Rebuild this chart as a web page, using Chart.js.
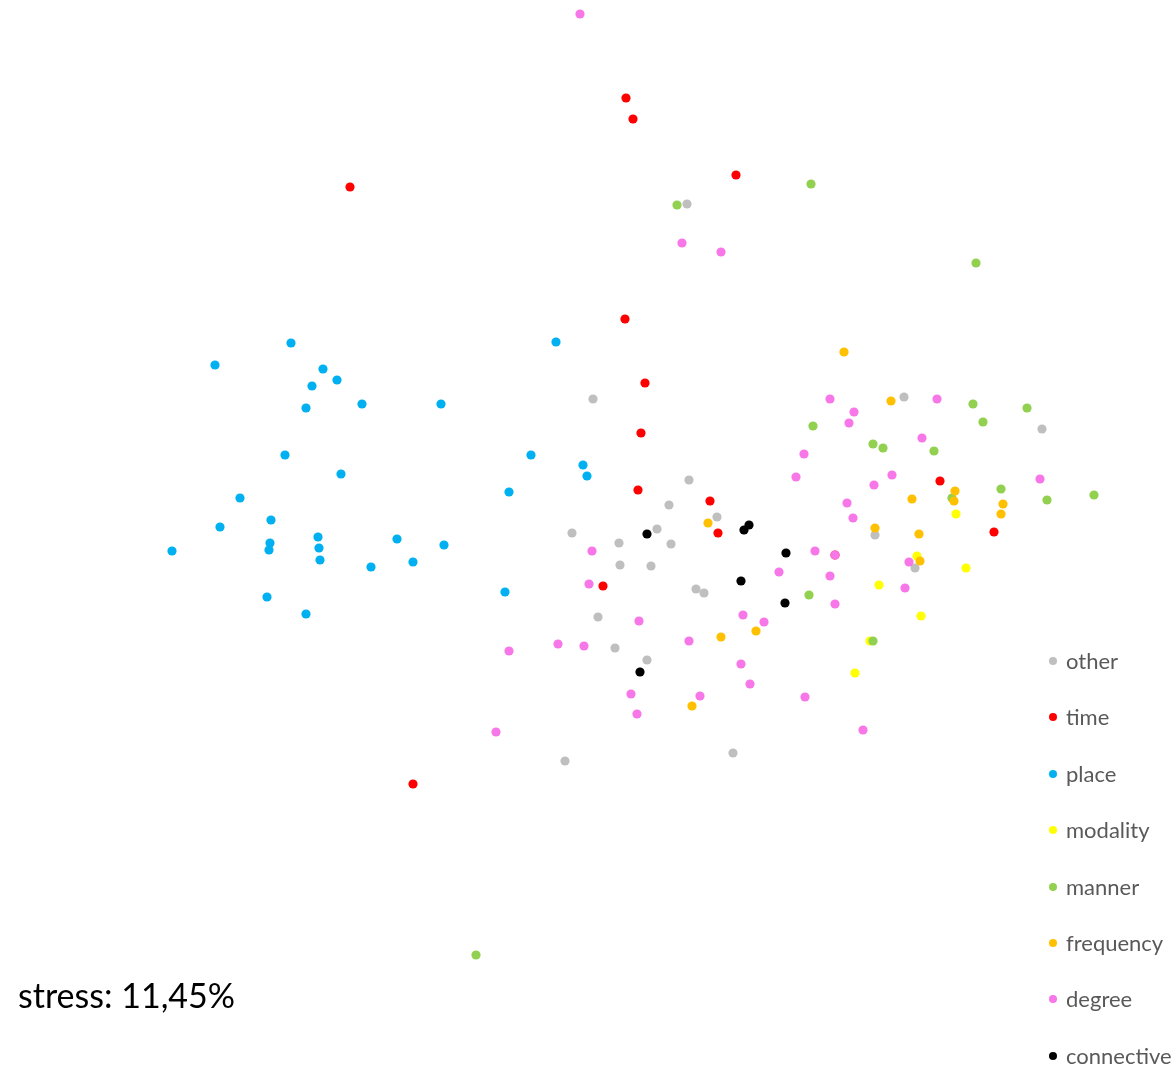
<!DOCTYPE html>
<html>
<head>
<meta charset="utf-8">
<script src="https://cdn.jsdelivr.net/npm/chart.js@4/dist/chart.umd.min.js"></script>
<style>
body{margin:0;background:#fff;overflow:hidden}
#wrap{position:absolute;left:0;top:0;width:1176px;height:1067px}
#stress{position:absolute;left:18px;top:974px;font-family:Lato,"Open Sans",sans-serif;font-size:34px;color:#000;white-space:nowrap}
#legend{position:absolute;left:1048px;top:647px;font-family:Lato,"Open Sans",sans-serif;font-size:22px;color:#595959}
.item{height:56.4px;display:flex;align-items:flex-start;white-space:nowrap}
.dot{width:8px;height:8px;border-radius:50%;margin:10px 9px 0 1px}
</style>
</head>
<body>
<div id="wrap"><canvas id="c" width="1176" height="1067"></canvas></div>
<div id="stress">stress: 11,45%</div>
<div id="legend"></div>
<script>

// MDS coordinates (dimension 1, dimension 2)
let other = [[-0.07,1.41],[0.87,3.36],[0.89,0.60],[0.69,0.35],[1.17,0.23],[0.57,0.11],[-0.28,0.07],[0.19,-0.03],[0.71,-0.04],[0.20,-0.25],[0.51,-0.26],[0.96,-0.49],[1.04,-0.53],[-0.02,-0.77],[0.15,-1.08],[0.47,-1.20],[-0.35,-2.21],[1.33,-2.13],[3.04,1.43],[4.42,1.11],[2.75,0.05],[3.15,-0.28]]
let time = [[0.26,4.42],[0.33,4.21],[-2.50,3.53],[1.36,3.65],[0.25,2.21],[0.45,1.57],[0.41,1.07],[0.38,0.50],[1.10,0.39],[1.18,0.07],[0.03,-0.46],[3.40,0.59],[3.94,0.08],[-1.87,-2.44],[2.35,-0.15]]
let place = [[-3.09,1.97],[-3.85,1.75],[-2.77,1.71],[-2.63,1.60],[-2.88,1.54],[-2.94,1.32],[-2.38,1.36],[-1.59,1.36],[-3.15,0.85],[-2.59,0.66],[-3.60,0.42],[-3.29,0.20],[-3.80,0.13],[-2.82,0.03],[-3.30,-0.03],[-3.31,-0.10],[-2.81,-0.08],[-4.28,-0.11],[-2.80,-0.20],[-2.03,0.01],[-1.56,-0.05],[-1.87,-0.22],[-2.29,-0.27],[-3.33,-0.57],[-2.94,-0.74],[-0.44,1.98],[-0.69,0.85],[-0.17,0.75],[-0.13,0.64],[-0.91,0.48],[-0.95,-0.52]]
let modality = [[3.56,0.26],[3.17,-0.16],[3.66,-0.28],[2.79,-0.45],[3.21,-0.76],[2.70,-1.01],[2.55,-1.33]]
let manner = [[2.11,3.56],[0.77,3.35],[3.76,2.77],[3.73,1.36],[4.27,1.32],[3.83,1.18],[2.13,1.14],[2.73,0.96],[2.83,0.92],[3.34,0.89],[4.01,0.51],[4.94,0.45],[3.52,0.42],[4.47,0.40],[2.09,-0.55],[2.73,-1.01],[-1.24,-4.15]]
let frequency = [[2.44,1.88],[2.91,1.39],[3.55,0.49],[3.54,0.39],[3.12,0.41],[4.03,0.36],[4.01,0.26],[2.75,0.12],[3.19,0.06],[3.20,-0.21],[1.08,0.17],[1.56,-0.91],[1.21,-0.97],[0.92,-1.66]]
let degree = [[-0.20,5.26],[0.82,2.97],[1.21,2.88],[2.30,1.41],[3.37,1.41],[2.54,1.28],[2.49,1.17],[3.22,1.02],[2.04,0.86],[1.96,0.63],[2.92,0.65],[2.74,0.55],[4.40,0.61],[2.47,0.37],[2.53,0.22],[-0.08,-0.11],[-0.11,-0.44],[2.15,-0.11],[2.35,-0.15],[3.09,-0.22],[1.79,-0.32],[2.30,-0.36],[3.05,-0.48],[2.35,-0.64],[1.64,-0.82],[1.43,-0.75],[0.39,-0.81],[0.89,-1.01],[-0.91,-1.11],[-0.42,-1.04],[-0.16,-1.06],[1.41,-1.24],[1.50,-1.44],[0.31,-1.54],[1.00,-1.56],[0.37,-1.74],[2.05,-1.57],[2.63,-1.90],[-1.04,-1.92]]
let connective = [[0.47,0.06],[1.44,0.10],[1.49,0.15],[1.86,-0.13],[1.41,-0.41],[1.85,-0.63],[0.40,-1.32]]

let names = ["other","time","place","modality","manner","frequency","degree","connective"]
let series = [other,time,place,modality,manner,frequency,degree,connective]
let colors = ["#BFBFBF","#FF0000","#00B0F0","#FFFF00","#92D050","#FFC000","#F777E8","#000000"]

let datasets = names.map((n,i)=>({
label:n,
data:series[i].map(p=>({x:p[0],y:p[1]})),
backgroundColor:colors[i],
borderWidth:0,
pointRadius:4.6,
order:names.length-i
}))

new Chart(document.getElementById("c"),{
type:"scatter",
data:{datasets:datasets},
options:{
responsive:false,
animation:false,
layout:{padding:0,autoPadding:false},
plugins:{legend:{display:false},tooltip:{enabled:false}},
scales:{
x:{display:false,min:-6,max:5.76},
y:{display:false,min:-5.27,max:5.40}
}
}
})

let leg = document.getElementById("legend")
names.forEach((n,i)=>{
let d = document.createElement("div")
d.className = "item"
d.innerHTML = '<span class="dot" style="background:'+colors[i]+'"></span><span>'+n+'</span>'
leg.appendChild(d)
})

</script>
</body>
</html>
